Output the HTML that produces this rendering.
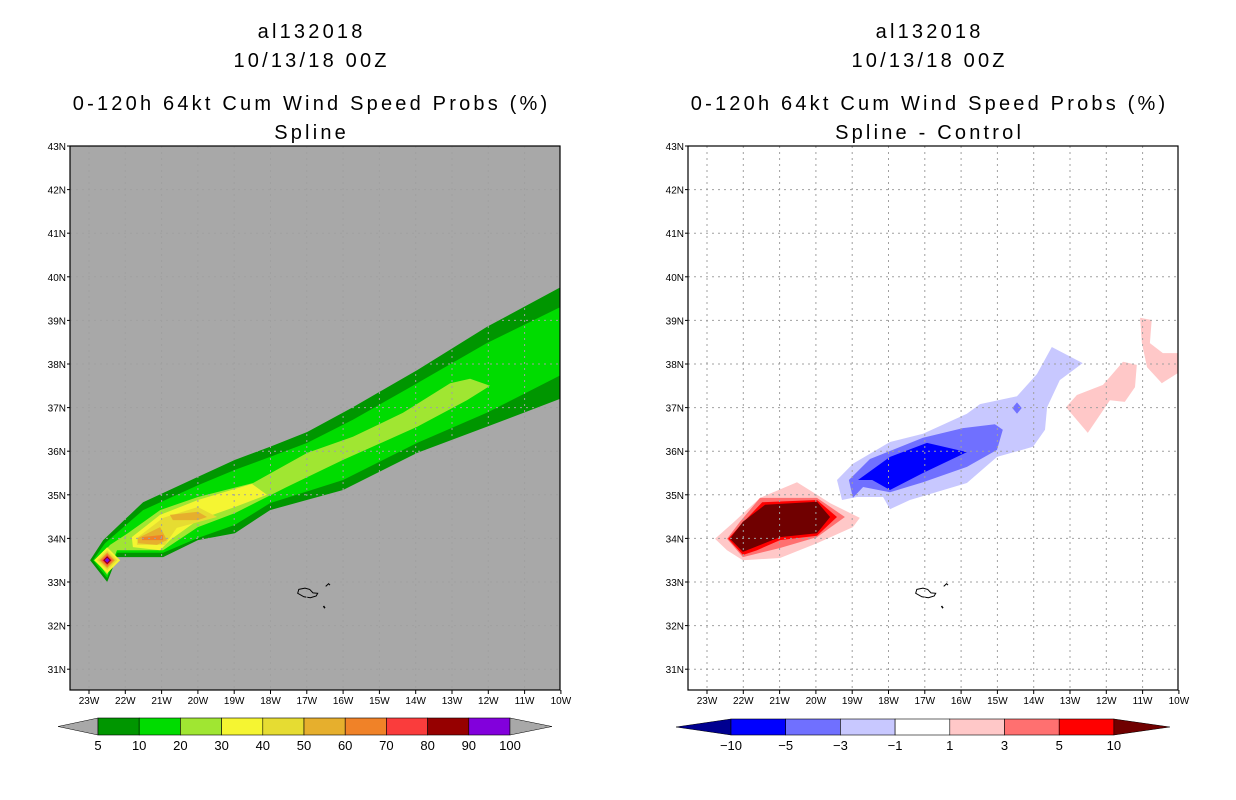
<!DOCTYPE html>
<html><head><meta charset="utf-8"><style>
body{margin:0;background:#fff;width:1236px;height:800px;overflow:hidden}
svg{display:block}
text{font-family:"Liberation Sans",sans-serif}
.ttl{letter-spacing:3.2px}
</style></head><body>
<svg id="s" width="1236" height="800" xmlns="http://www.w3.org/2000/svg"></svg>
<script>
// ---- data (lon in degrees W, lat in degrees N) ----
const latTicks=[43,42,41,40,39,38,37,36,35,34,33,32,31];
const lonTicks=[23,22,21,20,19,18,17,16,15,14,13,12,11,10];
const leftLevels=[5,10,20,30,40,50,60,70,80,90,100];
const rightLevels=[-10,-5,-3,-1,1,3,5,10];
const c5=[[22.97,33.50],[22.61,33.96],[21.51,34.83],[20.00,35.41],[18.98,35.80],[18.01,36.10],[16.99,36.44],[15.73,37.01],[13.96,37.86],[12.04,38.85],[9.9,39.81],[9.9,37.24],[12.04,36.56],[13.96,35.96],[16.00,35.11],[18.01,34.65],[18.98,34.12],[20.00,33.96],[20.96,33.57],[22.01,33.57],[22.23,33.57],[22.50,33.00]];
const c10=[[22.89,33.50],[22.56,33.89],[21.51,34.65],[20.00,35.22],[18.98,35.57],[18.01,35.87],[16.99,36.19],[15.73,36.72],[13.96,37.56],[12.04,38.48],[9.9,39.35],[9.9,37.79],[12.04,36.88],[13.96,36.19],[16.00,35.34],[18.01,34.81],[18.98,34.31],[20.00,34.01],[20.96,33.67],[22.01,33.67],[22.23,33.67],[22.50,33.09]];
const c20=[[22.81,33.50],[22.42,33.85],[21.93,34.12],[21.04,34.65],[20.00,34.95],[18.48,35.27],[16.99,35.96],[15.73,36.33],[14.35,36.88],[13.05,37.56],[12.50,37.66],[11.95,37.50],[12.59,37.17],[13.96,36.56],[16.00,35.80],[17.55,35.18],[18.98,34.58],[20.00,34.26],[20.96,33.73],[21.93,33.73],[22.23,33.73],[22.50,33.16]];
const c30=[[21.82,34.03],[21.04,34.54],[20.00,34.88],[18.51,35.25],[18.10,35.00],[18.98,34.72],[20.00,34.42],[20.77,33.96],[21.04,33.73],[21.79,33.80]];
const c40=[[21.68,34.01],[20.96,34.47],[20.00,34.72],[19.47,34.49],[20.58,34.24],[20.91,33.85],[21.68,33.85]];
const c50a=[[20.77,34.54],[20.00,34.61],[19.75,34.49],[20.00,34.42],[20.69,34.42]];
const c50b=[[21.65,34.01],[21.04,34.26],[20.85,33.96],[21.13,33.85],[21.65,33.89]];
const c60=[[21.54,34.03],[20.96,34.08],[20.96,33.96],[21.54,33.96]];
const peakCenter=[22.50,33.50];
const peakLevels=[30,40,50,60,70,80,90];
const peakRadii=[0.36,0.28,0.22,0.19,0.14,0.11,0.07];
const p1=[[22.78,33.99],[22.28,34.36],[21.54,34.93],[20.52,35.29],[19.97,35.00],[19.61,34.81],[18.79,34.47],[18.98,34.26],[19.97,33.89],[20.99,33.55],[22.01,33.50],[22.45,33.73]];
const p3=[[22.45,33.99],[22.09,34.38],[21.54,34.93],[19.97,34.93],[19.20,34.49],[19.97,34.03],[20.99,33.78],[22.01,33.57]];
const p5=[[22.42,33.99],[22.01,34.36],[21.48,34.83],[19.97,34.88],[19.42,34.49],[19.97,34.06],[20.99,33.96],[21.62,33.73],[22.01,33.62]];
const p10=[[22.37,33.99],[22.01,34.38],[21.40,34.77],[19.97,34.84],[19.61,34.49],[19.97,34.12],[20.99,34.03],[22.01,33.69]];
const b1=[[19.42,35.34],[18.98,35.71],[17.96,36.21],[17.05,36.40],[15.84,36.86],[15.48,37.08],[14.46,37.26],[13.91,37.77],[13.50,38.39],[12.65,38.02],[13.28,37.63],[13.63,37.01],[13.69,36.49],[14.02,36.10],[15.01,35.87],[15.84,35.27],[17.41,34.88],[17.96,34.67],[18.15,34.95],[18.87,34.95],[19.28,34.88]];
const b3=[[19.09,35.34],[18.51,35.82],[17.05,36.31],[15.95,36.53],[15.07,36.62],[14.85,36.49],[15.01,36.03],[15.84,35.64],[17.05,35.29],[17.96,35.06],[18.70,35.18],[18.98,34.93]];
const b5=[[18.84,35.34],[17.96,35.87],[16.94,36.19],[15.84,35.98],[17.05,35.50],[17.96,35.11],[18.45,35.34]];
const b3dot=[14.46,36.99];
const p1b=[[13.11,37.01],[12.81,37.29],[12.09,37.52],[11.54,38.05],[11.16,37.98],[11.21,37.47],[11.49,37.13],[11.90,37.17],[12.51,36.42]];
const p1c=[[11.07,39.06],[10.75,39.01],[10.80,38.48],[10.44,38.25],[9.9,38.25],[9.9,37.86],[10.47,37.56],[10.88,37.93],[11.02,38.48]];
const island=[[17.22,32.83],[17.05,32.86],[16.92,32.83],[16.83,32.75],[16.70,32.74],[16.74,32.68],[16.90,32.64],[17.08,32.66],[17.25,32.74]];
const islet1=[[16.48,32.90],[16.40,32.96],[16.36,32.93]];
const islet2=[[16.54,32.45],[16.50,32.40]];

// ---- axes ----
const panels=[{x0:70,off:0},{x0:688,off:618}];
const PX0=70,PX1=560,PY0=146,PY1=690;
function xs(lon,off){return 89+off+(23-lon)*36.3;}
function ys(lat){return 146+(43-lat)*43.6;}
const S=document.getElementById('s');
const NS='http://www.w3.org/2000/svg';
function el(tag,attrs,parent){const e=document.createElementNS(NS,tag);for(const k in attrs)e.setAttribute(k,attrs[k]);(parent||S).appendChild(e);return e;}
function pstr(pts,off){return pts.map(p=>xs(p[0],off).toFixed(1)+','+ys(p[1]).toFixed(1)).join(' ');}
function poly(pts,off,fill,name,g){
  const e=el('polygon',{points:pstr(pts,off),fill:fill},g);
  
  
  return e;
}
function txt(x,y,s,size,anchor,name,parent,cls){
  const t=el('text',{x:x,y:y,'font-size':size,'text-anchor':anchor||'middle',fill:'#000'},parent);
  if(cls)t.setAttribute('class',cls);
  t.textContent=s;
  
  
  return t;
}
const leftCols=['#009600','#00dc00','#a0e632','#f5f532','#e6dc32','#e6af2d','#f08228','#fa3c3c','#960000','#8200dc'];
const rightCols=['#000090','#0000ff','#7070ff','#c8c8ff','#ffffff','#ffc8c8','#ff7070','#ff0000','#700000'];

panels.forEach((P,pi)=>{
  const off=P.off;
  const titleX=(pi===0?310:928)+1.6;
  txt(titleX,38,'al132018',20,'middle','title-storm-id',null,'ttl');
  txt(titleX,67,'10/13/18 00Z',20,'middle','title-date',null,'ttl');
  txt(titleX,110,'0-120h 64kt Cum Wind Speed Probs (%)',20,'middle','title-product',null,'ttl');
  txt(titleX,139,pi===0?'Spline':'Spline - Control',20,'middle','title-subtitle',null,'ttl');
  const g=el('g',{});
  
  
  const cp=el('clipPath',{id:'cp'+pi},g);
  el('rect',{x:PX0+off,y:PY0,width:PX1-PX0,height:PY1-PY0},cp);
  const bg=el('rect',{x:PX0+off,y:PY0,width:PX1-PX0,height:PY1-PY0,fill:pi===0?'#a8a8a8':'#ffffff'},g);
  
  
  const cg=el('g',{'clip-path':'url(#cp'+pi+')'},g);
  if(pi===0){
    poly(c5,off,leftCols[0],'contour-5',cg);
    poly(c10,off,leftCols[1],'contour-10',cg);
    poly(c20,off,leftCols[2],'contour-20',cg);
    poly(c30,off,leftCols[3],'contour-30',cg);
    poly(c40,off,leftCols[4],'contour-40',cg);
    poly(c50a,off,leftCols[5],'contour-50',cg);
    poly(c50b,off,leftCols[5],'contour-50',cg);
    poly(c60,off,leftCols[6],'contour-60',cg);
    peakLevels.forEach((L,i)=>{
      const r=peakRadii[i],c=peakCenter;
      const d=[[c[0]+r,c[1]],[c[0],c[1]+r*0.83],[c[0]-r,c[1]],[c[0],c[1]-r*0.83]];
      poly(d,off,leftCols[leftLevels.indexOf(L)],'peak-contour-'+L,cg);
    });
  }else{
    poly(p1,off,rightCols[5],'diff-pos-1',cg);
    poly(p3,off,rightCols[6],'diff-pos-3',cg);
    poly(p5,off,rightCols[7],'diff-pos-5',cg);
    poly(p10,off,rightCols[8],'diff-pos-10',cg);
    poly(b1,off,rightCols[3],'diff-neg-1',cg);
    poly(b3,off,rightCols[2],'diff-neg-3',cg);
    poly(b5,off,rightCols[1],'diff-neg-5',cg);
    const r=0.13,c=b3dot;
    poly([[c[0]+r,c[1]],[c[0],c[1]+r],[c[0]-r,c[1]],[c[0],c[1]-r]],off,rightCols[2],'diff-neg-3-spot',cg);
    poly(p1b,off,rightCols[5],'diff-pos-1-east',cg);
    poly(p1c,off,rightCols[5],'diff-pos-1-far-east',cg);
  }
  const isl=el('polygon',{points:pstr(island,off),fill:'none',stroke:'#000','stroke-width':1},cg);
  
  
  const i1=el('polyline',{points:pstr(islet1,off),fill:'none',stroke:'#000','stroke-width':1},cg);
  
  
  const i2=el('polyline',{points:pstr(islet2,off),fill:'none',stroke:'#000','stroke-width':1.5},cg);
  
  
  // grid
  lonTicks.forEach(l=>{
    const x=xs(l,off);
    const gl=el('line',{x1:x,y1:PY0,x2:x,y2:PY1,stroke:'#a0a0a0','stroke-width':1,'stroke-dasharray':'2,4'},cg);
    
    
    txt(x,704,l+'W',10,'middle','x-tick-label',g);
    el('line',{x1:x,y1:PY1,x2:x,y2:PY1+4,stroke:'#000'},g);
  });
  latTicks.forEach(l=>{
    const y=ys(l);
    const gl=el('line',{x1:PX0+off,y1:y,x2:PX1+off,y2:y,stroke:'#a0a0a0','stroke-width':1,'stroke-dasharray':'2,4'},cg);
    
    
    txt(PX0+off-4,y+4,l+'N',10,'end','y-tick-label',g);
    el('line',{x1:PX0+off-3,y1:y,x2:PX0+off,y2:y,stroke:'#000'},g);
  });
  const fr=el('rect',{x:PX0+off,y:PY0,width:PX1-PX0,height:PY1-PY0,fill:'none',stroke:'#000','stroke-width':1.2},g);
  
  
});

// ---- colorbars ----
(function(){
  const g=el('g',{});
  
  
  const y0=718,y1=735,x0=98,w=41.2;
  const lt=el('polygon',{points:`58,${(y0+y1)/2} ${x0},${y0} ${x0},${y1}`,fill:'#a8a8a8',stroke:'#000','stroke-width':0.5},g);
  
  
  leftCols.forEach((c,i)=>{
    const r=el('rect',{x:x0+i*w,y:y0,width:w,height:y1-y0,fill:c,stroke:'#000','stroke-width':0.6},g);
    
    
  });
  const xe=x0+leftCols.length*w;
  const rt=el('polygon',{points:`${xe},${y0} ${xe+42},${(y0+y1)/2} ${xe},${y1}`,fill:'#a8a8a8',stroke:'#000','stroke-width':0.5},g);
  
  
  leftLevels.forEach((L,i)=>txt(x0+i*w,750,String(L),13,'middle','colorbar-label',g));
})();
(function(){
  const g=el('g',{});
  
  
  const y0=719,y1=735,x0=731,w=54.7;
  const lt=el('polygon',{points:`676,${(y0+y1)/2} ${x0},${y0} ${x0},${y1}`,fill:rightCols[0],stroke:'#000','stroke-width':0.5},g);
  
  
  for(let i=1;i<rightCols.length-1;i++){
    const r=el('rect',{x:x0+(i-1)*w,y:y0,width:w,height:y1-y0,fill:rightCols[i],stroke:'#000','stroke-width':0.6},g);
    
    
  }
  const xe=x0+(rightCols.length-2)*w;
  const rt=el('polygon',{points:`${xe},${y0} ${xe+56},${(y0+y1)/2} ${xe},${y1}`,fill:rightCols[rightCols.length-1],stroke:'#000','stroke-width':0.5},g);
  
  
  rightLevels.forEach((L,i)=>txt(x0+i*w,750,L<0?'\u2212'+(-L):String(L),13,'middle','colorbar-label',g));
})();
</script>
</body></html>
